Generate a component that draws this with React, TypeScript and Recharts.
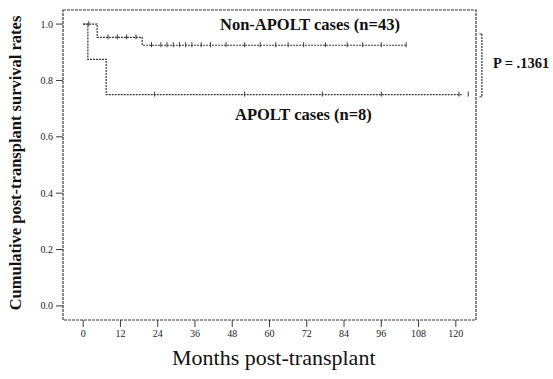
import React from 'react'
import { ComposedChart, Line, Scatter, XAxis, YAxis, ReferenceArea, ReferenceLine } from 'recharts'

const monthTicks = [0, 12, 24, 36, 48, 60, 72, 84, 96, 108, 120]
const survivalTicks = [0, 0.2, 0.4, 0.6, 0.8, 1.0]

// Kaplan-Meier steps
const nonApoltMonths = [0, 4.5, 19, 104]
const nonApoltSurvival = [1.0, 0.953, 0.925, 0.925]
const nonApoltCensored = [1.8, 8, 11, 14, 17, 22, 25, 27, 29, 31, 33, 35, 38, 41, 46, 52, 57, 62, 66, 71, 78, 85, 90, 96, 104]

const apoltMonths = [0, 1.5, 7.4, 122]
const apoltSurvival = [1.0, 0.875, 0.75, 0.75]
const apoltCensored = [23, 52, 77, 96, 121, 124]

const ink = '#3a3a3a'
const serif = '"Liberation Serif", "DejaVu Serif", serif'

const steps = (months: number[], surv: number[]) => months.map((m, i) => ({ m, s: surv[i] }))
const survAt = (months: number[], surv: number[], t: number) => {
  let s = surv[0]
  months.forEach((m, i) => { if (m <= t) s = surv[i] })
  return s
}
const censor = (times: number[], months: number[], surv: number[]) =>
  times.map(t => ({ m: t, s: survAt(months, surv, t) }))

const nonApolt = steps(nonApoltMonths, nonApoltSurvival)
const apolt = steps(apoltMonths, apoltSurvival)
const nonApoltMarks = censor(nonApoltCensored, nonApoltMonths, nonApoltSurvival)
const apoltMarks = censor(apoltCensored, apoltMonths, apoltSurvival)

const Tick = (p: any) => (
  <line x1={p.cx} x2={p.cx} y1={p.cy - 3} y2={p.cy + 2} stroke={ink} strokeWidth={1} />
)

const txt: React.CSSProperties = { position: 'absolute', fontFamily: serif, color: '#111', whiteSpace: 'nowrap', lineHeight: 1 }

export default function App() {
  return (
    <div style={{ position: 'absolute', left: 0, top: 0, width: 553, height: 379, background: '#fff' }}>
      <ComposedChart width={553} height={379} margin={{ top: 10, right: 77, bottom: 0, left: 0 }}>
        <XAxis type="number" dataKey="m" domain={[-6.5, 126.5]} ticks={monthTicks} height={59}
          interval={0} axisLine={false} tickSize={7} tickMargin={3} stroke={ink}
          tick={{ fontSize: 10, fontFamily: serif, fill: '#222' }} />
        <YAxis type="number" dataKey="s" domain={[-0.05, 1.05]} ticks={survivalTicks} width={63}
          interval={0} axisLine={false} tickSize={7} tickMargin={3} stroke={ink}
          tickFormatter={(v: number) => v.toFixed(1)}
          tick={{ fontSize: 10, fontFamily: serif, fill: '#222' }} />
        <ReferenceArea x1={-6.5} x2={126.5} y1={-0.05} y2={1.05} fill="none" stroke={ink}
          strokeDasharray="3 1" strokeWidth={1.2} />
        <Line data={nonApolt} dataKey="s" type="stepAfter" stroke={ink} strokeWidth={1.2}
          strokeDasharray="2 1" dot={false} isAnimationActive={false} />
        <Line data={apolt} dataKey="s" type="stepAfter" stroke={ink} strokeWidth={1.2}
          strokeDasharray="2 1" dot={false} isAnimationActive={false} />
        <Scatter data={nonApoltMarks} shape={Tick} isAnimationActive={false} />
        <Scatter data={apoltMarks} shape={Tick} isAnimationActive={false} />
        <ReferenceLine segment={[{ x: 128.4, y: 0.965 }, { x: 128.4, y: 0.742 }]}
          ifOverflow="visible" stroke={ink} strokeWidth={1.2} strokeDasharray="2 1" />
        <ReferenceLine segment={[{ x: 127.6, y: 0.965 }, { x: 128.4, y: 0.965 }]} ifOverflow="visible" stroke={ink} />
        <ReferenceLine segment={[{ x: 127.6, y: 0.742 }, { x: 128.4, y: 0.742 }]} ifOverflow="visible" stroke={ink} />
      </ComposedChart>
      <div style={{ ...txt, left: 220, top: 17, fontSize: 16.5, fontWeight: 'bold' }}>Non-APOLT cases (n=43)</div>
      <div style={{ ...txt, left: 235, top: 107, fontSize: 16.5, fontWeight: 'bold' }}>APOLT cases (n=8)</div>
      <div style={{ ...txt, left: 493, top: 56, fontSize: 14.5, fontWeight: 'bold' }}>P = .1361</div>
      <div style={{ ...txt, left: 172, top: 347, fontSize: 22 }}>Months post-transplant</div>
      <div style={{ ...txt, left: 16, top: 163, fontSize: 16.5, fontWeight: 'bold',
        transform: 'translate(-50%, -50%) rotate(-90deg)' }}>Cumulative post-transplant survival rates</div>
    </div>
  )
}
